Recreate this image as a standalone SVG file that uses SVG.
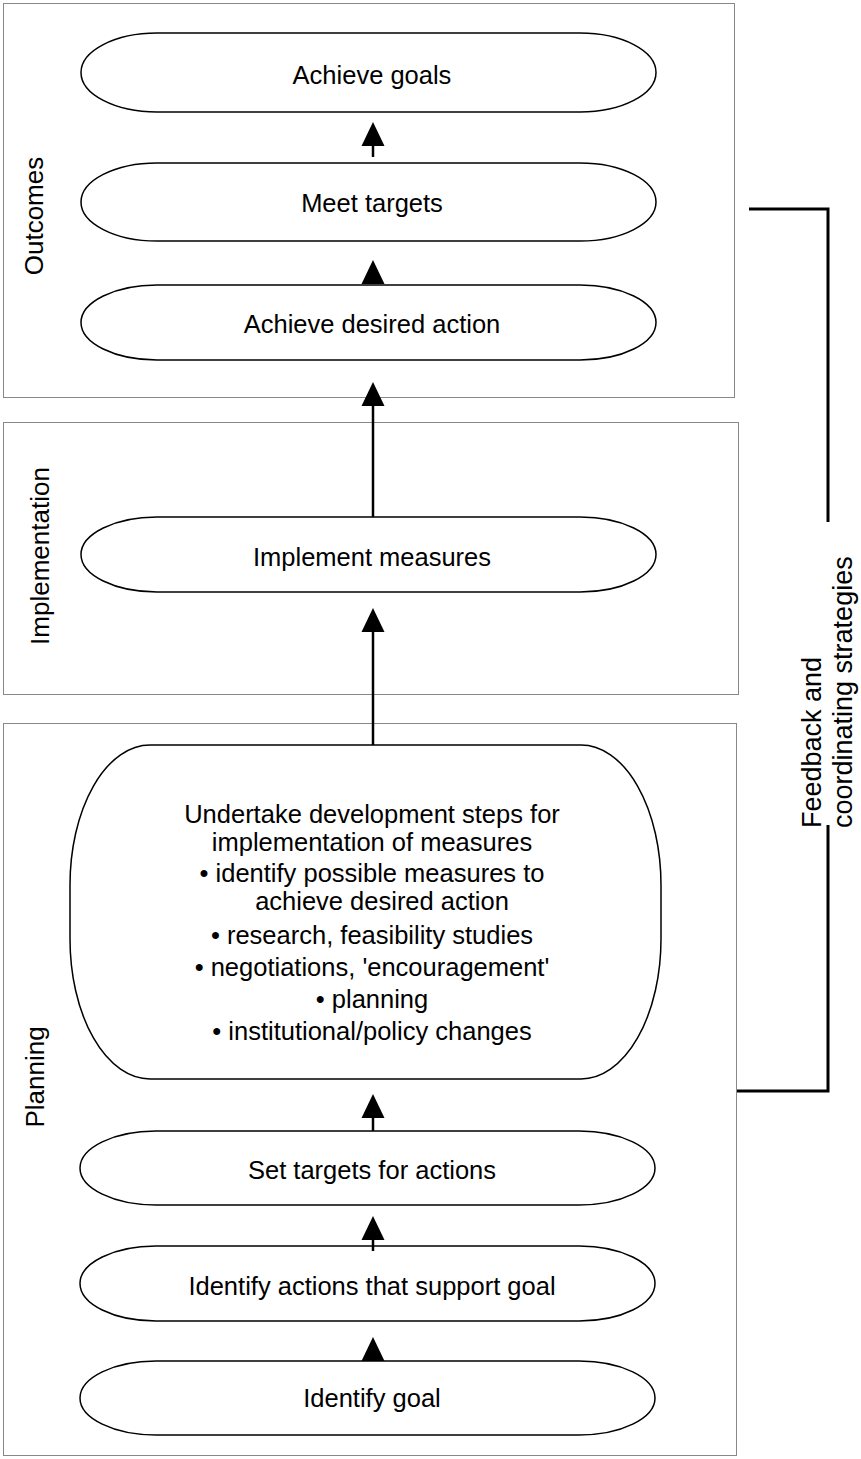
<svg xmlns="http://www.w3.org/2000/svg" width="861" height="1459" viewBox="0 0 861 1459">
<style>
.frame{fill:none;stroke:#111;stroke-width:1;stroke-dasharray:1 1}
.node{fill:#fff;stroke:#000;stroke-width:1.5}
.t{font-family:"Liberation Sans",Arial,sans-serif;font-size:25.5px;fill:#000;text-anchor:middle}
.lab{font-family:"Liberation Sans",Arial,sans-serif;font-size:26px;fill:#000;text-anchor:middle}
.fb{font-family:"Liberation Sans",Arial,sans-serif;font-size:27px;fill:#000}
.shaft{stroke:#000;stroke-width:2.5;fill:none}
.br{stroke:#000;stroke-width:3;fill:none}
</style>
<defs>
<path id="ah" d="M0,0 L-11.5,24 L11.5,24 Z" fill="#000"/>
</defs>
<rect width="861" height="1459" fill="#fff"/>

<g id="frame-outcomes">
<rect class="frame" x="3.5" y="3.5" width="731" height="394"/>
<text class="lab" transform="translate(43,216) rotate(-90)">Outcomes</text>
</g>
<g id="frame-implementation">
<rect class="frame" x="3.5" y="422.5" width="735" height="272"/>
<text class="lab" transform="translate(49,556) rotate(-90)">Implementation</text>
</g>
<g id="frame-planning">
<rect class="frame" x="3.5" y="723.5" width="733" height="732"/>
<text class="lab" transform="translate(44,1077) rotate(-90)">Planning</text>
</g>

<g id="n-achieve-goals">
<rect class="node" x="81" y="33" width="575" height="79" rx="76" ry="39.5"/>
<text class="t" x="372" y="84">Achieve goals</text>
</g>
<g id="n-meet-targets">
<rect class="node" x="81" y="163" width="575" height="78" rx="76" ry="39"/>
<text class="t" x="372" y="212">Meet targets</text>
</g>
<g id="n-achieve-desired">
<rect class="node" x="81" y="285" width="575" height="75" rx="76" ry="37.5"/>
<text class="t" x="372" y="333">Achieve desired action</text>
</g>
<g id="n-implement">
<rect class="node" x="81" y="517" width="575" height="75" rx="76" ry="37.5"/>
<text class="t" x="372" y="566">Implement measures</text>
</g>
<g id="n-undertake">
<rect class="node" x="70" y="745" width="591" height="334" rx="80" ry="140"/>
<text class="t" x="372" y="823">Undertake development steps for</text>
<text class="t" x="372" y="851">implementation of measures</text>
<text class="t" x="372" y="882">• identify possible measures to</text>
<text class="t" x="382" y="910">achieve desired action</text>
<text class="t" x="372" y="944">• research, feasibility studies</text>
<text class="t" x="372" y="976">• negotiations, 'encouragement'</text>
<text class="t" x="372" y="1008">• planning</text>
<text class="t" x="372" y="1040">• institutional/policy changes</text>
</g>
<g id="n-set-targets">
<rect class="node" x="80" y="1131" width="575" height="74" rx="76" ry="37"/>
<text class="t" x="372" y="1179">Set targets for actions</text>
</g>
<g id="n-identify-actions">
<rect class="node" x="80" y="1246" width="575" height="75" rx="76" ry="37.5"/>
<text class="t" x="372" y="1295">Identify actions that support goal</text>
</g>
<g id="n-identify-goal">
<rect class="node" x="80" y="1361" width="575" height="74" rx="76" ry="37"/>
<text class="t" x="372" y="1407">Identify goal</text>
</g>

<g id="connectors">
<line class="shaft" x1="373" y1="157" x2="373" y2="144"/>
<use href="#ah" x="373" y="122"/>
<use href="#ah" x="373" y="260"/>
<line class="shaft" x1="373" y1="517" x2="373" y2="405"/>
<use href="#ah" x="373" y="382"/>
<line class="shaft" x1="373" y1="745" x2="373" y2="631"/>
<use href="#ah" x="373" y="608"/>
<line class="shaft" x1="373" y1="1131" x2="373" y2="1117"/>
<use href="#ah" x="373" y="1094"/>
<line class="shaft" x1="373" y1="1251" x2="373" y2="1239"/>
<use href="#ah" x="373" y="1216"/>
<use href="#ah" x="373" y="1337"/>
</g>

<g id="feedback">
<polyline class="br" points="749,209 828,209 828,522"/>
<polyline class="br" points="828,825 828,1091 737,1091"/>
<text class="fb" transform="translate(821,828) rotate(-90)">Feedback and</text>
<text class="fb" transform="translate(852,828) rotate(-90)">coordinating strategies</text>
</g>
</svg>
